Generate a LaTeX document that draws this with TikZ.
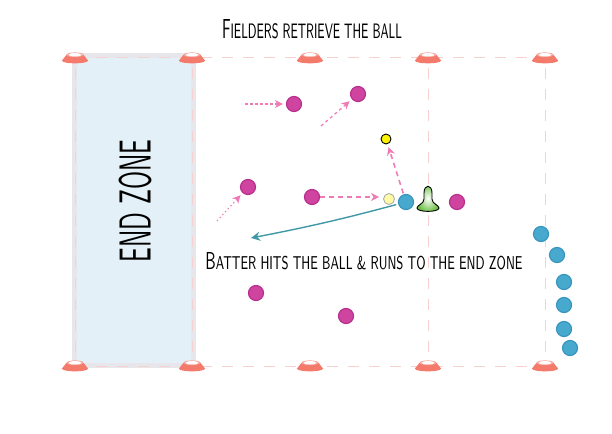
\documentclass[tikz,border=0pt]{standalone}
\usepackage{graphicx}
\usetikzlibrary{arrows.meta,shadings}
\definecolor{conered}{HTML}{F47A6C}
\definecolor{fieldline}{HTML}{F9D0D0}
\definecolor{ezgray}{HTML}{E6E6EB}
\definecolor{ezfill}{HTML}{E4F0F7}
\definecolor{magfill}{HTML}{CF449E}
\definecolor{magline}{HTML}{B8308E}
\definecolor{bluefill}{HTML}{48A9CF}
\definecolor{blueline}{HTML}{3795BD}
\definecolor{arrowpink}{HTML}{F07AB5}
\definecolor{tealline}{HTML}{3F98A5}
\definecolor{teegreen}{HTML}{6DBE45}
\newcommand{\smc}[1]{{\fontsize{7.6}{9}\selectfont #1}}
\tikzset{
  fielder/.style={circle, fill=magfill, draw=magline, line width=1.2pt, minimum size=15pt, inner sep=0pt},
  batter/.style={circle, fill=bluefill, draw=blueline, line width=1.2pt, minimum size=15pt, inner sep=0pt},
  runmove/.style={draw=arrowpink, line width=1.2pt, -{Stealth[length=8pt,width=8pt,inset=2.5pt]}},
  hitline/.style={draw=tealline, line width=1.4pt, -{Stealth[length=9pt,width=9pt,inset=3pt]}},
  fieldln/.style={draw=fieldline, line width=1pt, dash pattern=on 11pt off 10pt},
  labeltext/.style={inner sep=0pt, font=\sffamily},
  fcone/.pic={
    \fill[conered] (-8.5,-3.2) -- (8.5,-3.2) -- (13,2.5) .. controls (13,6.3) and (-13,6.3) .. (-13,2.5) -- cycle;
    \fill[conered!70!white] (0,-3.2) ellipse [x radius=8.5, y radius=2.4];
    \fill[white] (0,-3.2) ellipse [x radius=6.6, y radius=1.7];
  },
  tee/.pic={
    \draw[line width=0.9pt, inner color=white, outer color=teegreen]
      (-4,-6) .. controls (-4,-15) and (4,-15) .. (4,-6) -- (4,0)
      .. controls (4,5) and (11,6) .. (11,9) .. controls (11,13.5) and (-11,13.5) .. (-11,9)
      .. controls (-11,6) and (-4,5) .. (-4,0) -- cycle;
  }
}
\begin{document}
\begin{tikzpicture}[x=1pt,y=-1pt]
\useasboundingbox (0,0) rectangle (612,433);
% end zone
\draw[ezgray, line width=5pt, fill=ezfill] (74,56) rectangle (193,365);
% field lines
\draw[fieldln] (75,58) -- (545,58);
\draw[fieldln] (75,366) -- (545,366);
\foreach \xx in {75,192,428,545}{\draw[fieldln] (\xx,68) -- (\xx,358);}
% cones
\foreach \xx in {75,192,310,428,545}{
  \pic at (\xx,58) {fcone};
  \pic at (\xx,366) {fcone};
}
% text
\node[labeltext] (endzone) at (135,201) {\rotatebox{90}{\resizebox{123pt}{32pt}{END ZONE}}};
\node[labeltext] (title) at (312,29) {\resizebox{180pt}{19pt}{F\smc{IELDERS RETRIEVE THE BALL}}};
\node[labeltext] (caption) at (364,261) {\resizebox{317pt}{17pt}{B\smc{ATTER HITS THE BALL \& RUNS TO THE END ZONE}}};
% fielders
\node[fielder] (f1) at (294,104) {};
\node[fielder] (f2) at (358,94) {};
\node[fielder] (f3) at (248,187) {};
\node[fielder] (f4) at (312,197) {};
\node[fielder] (f5) at (457,202) {};
\node[fielder] (f6) at (256,293) {};
\node[fielder] (f7) at (346,316) {};
% batters
\node[batter] (bat) at (406,202) {};
\node[batter] (q1) at (541,234) {};
\node[batter] (q2) at (557,255) {};
\node[batter] (q3) at (564,282) {};
\node[batter] (q4) at (564,305) {};
\node[batter] (q5) at (564,329) {};
\node[batter] (q6) at (570,348) {};
% balls
\node[circle, fill=yellow, draw=black, line width=0.9pt, minimum size=10pt, inner sep=0pt] (ball) at (386,139) {};
\node[circle, fill=yellow!35!white, draw=black!35, line width=0.8pt, minimum size=11pt, inner sep=0pt] (tball) at (389,199) {};
% tee
\pic at (428,199) {tee};
% arrows
\coordinate (s1) at (245,104);
\coordinate (s2) at (321,126);
\coordinate (s3) at (217,221);
\coordinate (hitend) at (251,238);
\draw[runmove, dash pattern=on 2.5pt off 2.5pt, shorten >=3pt] (s1) -- (f1);
\draw[runmove, dash pattern=on 3pt off 3pt, shorten >=3pt] (s2) -- (f2);
\draw[runmove, dash pattern=on 1.5pt off 2.5pt, line width=1pt, shorten >=3pt] (s3) -- (f3);
\draw[runmove, dash pattern=on 5pt off 4pt, line width=1.6pt, shorten >=10pt] (f4.east) -- (f4 -| tball);
\draw[runmove, dash pattern=on 5pt off 4pt, line width=1.6pt, shorten <=1pt, shorten >=3pt] (bat) -- (ball);
\draw[hitline, shorten <=2pt] (bat) to[bend left=2] (hitend);
\end{tikzpicture}
\end{document}
